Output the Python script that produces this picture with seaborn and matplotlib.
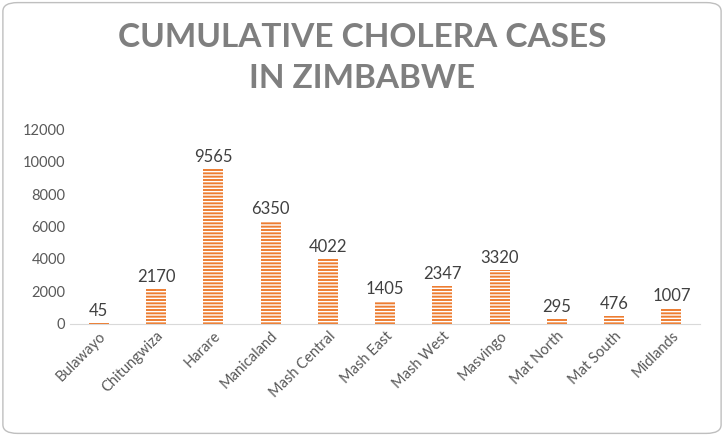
import matplotlib
matplotlib.use("Agg")
import matplotlib.pyplot as plt
import seaborn as sb
import pandas as pd
from matplotlib.patches import FancyBboxPatch

provinces = ['Bulawayo', 'Chitungwiza', 'Harare', 'Manicaland', 'Mash Central',
             'Mash East', 'Mash West', 'Masvingo', 'Mat North', 'Mat South', 'Midlands']
cases = [45, 2170, 9565, 6350, 4022, 1405, 2347, 3320, 295, 476, 1007]

data = pd.DataFrame({'province': provinces, 'cases': cases})

sb.set_style('white')
plt.rcParams['font.family'] = ['Lato', 'DejaVu Sans']
plt.rcParams['hatch.linewidth'] = 1.0

fig = plt.figure(figsize=(7.24, 4.36), dpi=100)
ax = fig.add_axes([0.097, 0.257, 0.87, 0.447])
sb.barplot(x='province', y='cases', data=data, ax=ax, color='#ED7D31',
           width=0.35, saturation=1)
for bar in ax.patches:
    bar.set_hatch('-----')
    bar.set_edgecolor('white')
    bar.set_linewidth(0)
for bar, v in zip(ax.patches, cases):
    ax.text(bar.get_x() + bar.get_width() / 2, v + 250, str(v),
            ha='center', va='bottom', fontsize=12, color='#404040')

ax.set_ylim(0, 12000)
ax.set_yticks(range(0, 12001, 2000))
ax.set_xlabel('')
ax.set_ylabel('')
ax.tick_params(axis='both', colors='#595959', labelsize=10.5, length=0)
plt.setp(ax.get_xticklabels(), rotation=45, ha='right', rotation_mode='anchor')
for s in ['top', 'right', 'left']:
    ax.spines[s].set_visible(False)
ax.spines['bottom'].set_color('#D9D9D9')

title_kw = dict(ha='center', va='center', fontsize=24, fontweight='bold', color='#7F7F7F')
fig.text(0.5, 0.915, ' '.join('CUMULATIVE CHOLERA CASES').replace('   ', '    '),
         fontsize=24, ha='center', va='center', fontweight='bold', color='#7F7F7F',
         alpha=0)
fig.text(0.5, 0.915, 'CUMULATIVE CHOLERA CASES', **title_kw)
fig.text(0.5, 0.82, 'IN ZIMBABWE', **title_kw)

fig.patches.append(FancyBboxPatch((0.004, 0.006), 0.992, 0.988,
                                  boxstyle='round,pad=0,rounding_size=0.02',
                                  transform=fig.transFigure, fill=False,
                                  edgecolor='#BFBFBF', linewidth=1))
fig.savefig('out.png', dpi=100)
